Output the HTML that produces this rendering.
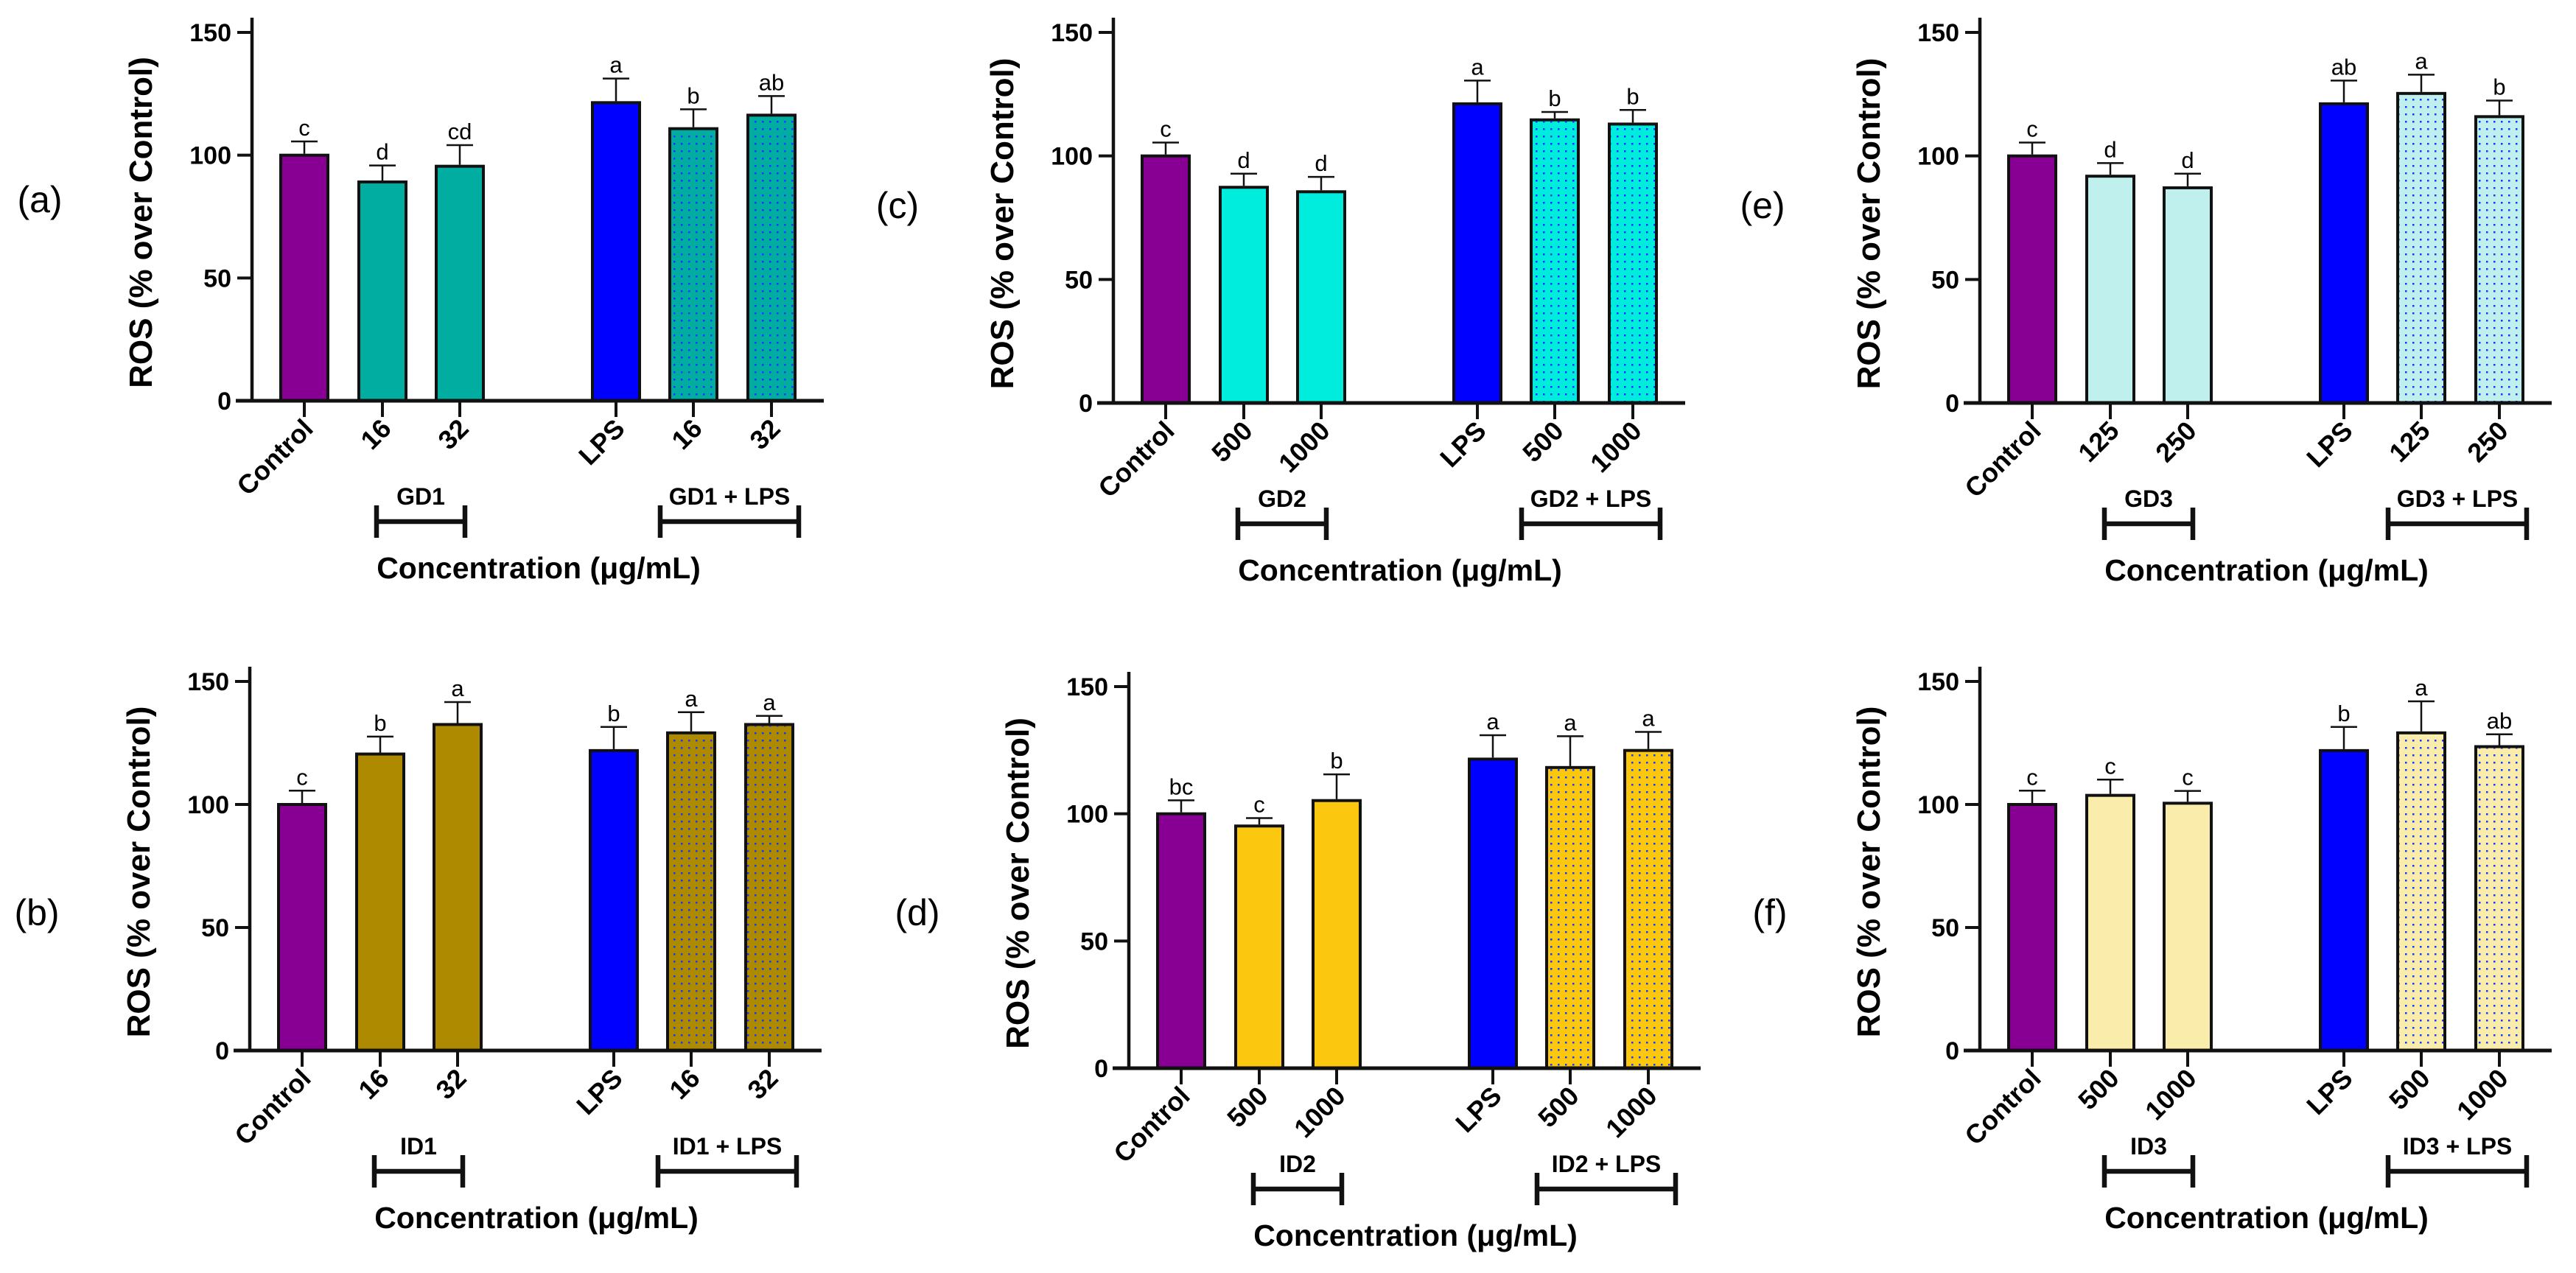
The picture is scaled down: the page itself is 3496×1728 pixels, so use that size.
<!DOCTYPE html>
<html><head><meta charset="utf-8"><style>
html,body{margin:0;padding:0;background:#fff;}
svg{display:block;}
text{font-family:"Liberation Sans",Arial,sans-serif;}
</style></head><body>
<svg id="fig" width="3496" height="1728" viewBox="0 0 3496 1728" xmlns="http://www.w3.org/2000/svg">
<defs>
<pattern id="dots" width="10" height="10" patternUnits="userSpaceOnUse"><rect x="4" y="4" width="2.5" height="2.5" fill="#1536ff"/></pattern>
</defs>
</svg>
<script>
// ---- data ----
const panelIds = ['a','b','c','d','e','f'];
const catA = ['Control','16','32','LPS','16','32'];
const catB = ['Control','16','32','LPS','16','32'];
const catC = ['Control','500','1000','LPS','500','1000'];
const catD = ['Control','500','1000','LPS','500','1000'];
const catE = ['Control','125','250','LPS','125','250'];
const catF = ['Control','500','1000','LPS','500','1000'];
const valA = [100, 89.1, 95.5, 121.4, 110.8, 116.3];
const errA = [5.6, 6.7, 8.6, 9.8, 7.9, 7.8];
const valB = [100, 120.5, 132.5, 121.9, 129.1, 132.5];
const errB = [5.6, 7.1, 9.1, 9.6, 8.4, 3.5];
const valC = [100, 87.3, 85.5, 121.1, 114.6, 112.9];
const errC = [5.4, 5.5, 6.0, 9.4, 3.2, 5.7];
const valD = [100, 95.2, 105.2, 121.5, 118.2, 124.9];
const errD = [5.3, 3.1, 10.3, 9.4, 12.3, 7.3];
const valE = [100, 91.8, 87.1, 121.1, 125.3, 115.9];
const errE = [5.4, 5.3, 5.7, 9.4, 7.6, 6.5];
const valF = [100, 103.7, 100.5, 121.9, 129.1, 123.5];
const errF = [5.6, 6.4, 5.0, 9.6, 12.8, 5.0];
const letA = ['c','d','cd','a','b','ab'];
const letB = ['c','b','a','b','a','a'];
const letC = ['c','d','d','a','b','b'];
const letD = ['bc','c','b','a','a','a'];
const letE = ['c','d','d','ab','a','b'];
const letF = ['c','c','c','b','a','ab'];
const groupA = ['GD1','GD1 + LPS'];
const groupB = ['ID1','ID1 + LPS'];
const groupC = ['GD2','GD2 + LPS'];
const groupD = ['ID2','ID2 + LPS'];
const groupE = ['GD3','GD3 + LPS'];
const groupF = ['ID3','ID3 + LPS'];
const yTicks = [0, 50, 100, 150];

const NS = 'http://www.w3.org/2000/svg';
const svg = document.getElementById('fig');
function mk(tag, attrs, parent){
  const e = document.createElementNS(NS, tag);
  for (const k in attrs) e.setAttribute(k, attrs[k]);
  (parent||svg).appendChild(e);
  return e;
}
const panels = [
  {id:'a', ax:342, y0:544, y150:44, lx:54, ly:272, cats:catA, vals:valA, errs:errA, lets:letA, grp:groupA, fill:'#00ada0'},
  {id:'b', ax:339, y0:1426, y150:925, lx:50, ly:1240, cats:catB, vals:valB, errs:errB, lets:letB, grp:groupB, fill:'#ae8a00'},
  {id:'c', ax:1511, y0:547, y150:44, lx:1218, ly:280, cats:catC, vals:valC, errs:errC, lets:letC, grp:groupC, fill:'#00ecdc'},
  {id:'d', ax:1532, y0:1450, y150:932, lx:1245, ly:1240, cats:catD, vals:valD, errs:errD, lets:letD, grp:groupD, fill:'#fcc70f'},
  {id:'e', ax:2687, y0:547, y150:44, lx:2392, ly:280, cats:catE, vals:valE, errs:errE, lets:letE, grp:groupE, fill:'#bff0ed'},
  {id:'f', ax:2687, y0:1426, y150:925, lx:2402, ly:1240, cats:catF, vals:valF, errs:errF, lets:letF, grp:groupF, fill:'#faecab'}
];
const offsets = [71, 177, 282, 494, 599, 705];
const BW = 64;

panels.forEach(p => {
  const g = mk('g', {});
  
  
  const yS = v => p.y0 - (p.y0 - p.y150) * v / 150;
  const cx = i => p.ax + offsets[i];

  const lab = mk('text', {x:p.lx, y:p.ly + 16, 'font-size':50, 'text-anchor':'middle'}, g);
  lab.textContent = '(' + p.id + ')';
  
  

  const yt = mk('text', {x:0, y:0, 'font-size':44, 'font-weight':'bold', 'text-anchor':'middle',
    transform:'translate(' + (p.ax - 136) + ',' + ((p.y0 + p.y150) / 2 + 8) + ') rotate(-90)'}, g);
  yt.textContent = 'ROS (% over Control)';
  
  

  // bars
  p.vals.forEach((v, i) => {
    const top = yS(v);
    const bar = mk('rect', {x:cx(i) - BW/2, y:top, width:BW, height:p.y0 - top,
      fill: i === 0 ? '#880093' : (i === 3 ? '#0000ff' : p.fill), stroke:'#111', 'stroke-width':4}, g);
    
    
    if (i > 3) {
      const pat = mk('rect', {x:cx(i) - BW/2 + 2, y:top + 2, width:BW - 4, height:p.y0 - top - 4, fill:'url(#dots)'}, g);
      
      
    }
    const et = yS(v + p.errs[i]);
    const el = mk('path', {d:'M' + cx(i) + ' ' + (top - 2) + 'V' + et + 'M' + (cx(i) - 18) + ' ' + et + 'H' + (cx(i) + 18), stroke:'#111', 'stroke-width':2.5, fill:'none'}, g);
    
    
    const lt = mk('text', {x:cx(i), y:et - 8, 'font-size':31, 'text-anchor':'middle'}, g);
    lt.textContent = p.lets[i];
    
    
    // x tick
    const tk = mk('line', {x1:cx(i), y1:p.y0, x2:cx(i), y2:p.y0 + 22, stroke:'#111', 'stroke-width':4}, g);
    
    
    const cl = mk('text', {x:0, y:0, 'font-size':36, 'font-weight':'bold', 'text-anchor':'end',
      transform:'translate(' + (cx(i) + 14) + ',' + (p.y0 + 40) + ') rotate(-45)'}, g);
    cl.textContent = p.cats[i];
    
    
  });

  // axes
  const yax = mk('line', {x1:p.ax, y1:p.y150 - 20, x2:p.ax, y2:p.y0 + 2, stroke:'#111', 'stroke-width':4.5}, g);
  
  
  const xax = mk('line', {x1:p.ax - 22, y1:p.y0, x2:p.ax + 776, y2:p.y0, stroke:'#111', 'stroke-width':5}, g);
  
  
  yTicks.forEach(t => {
    const y = yS(t);
    const tl = mk('line', {x1:p.ax - 20, y1:y, x2:p.ax, y2:y, stroke:'#111', 'stroke-width':4}, g);
    
    
    const tx = mk('text', {x:p.ax - 28, y:y + 12, 'font-size':34, 'font-weight':'bold', 'text-anchor':'end'}, g);
    tx.textContent = t;
    
    
  });

  // group brackets
  const br = [[cx(1) - 8, cx(2) + 7], [cx(4) - 45, cx(5) + 37]];
  br.forEach((b, k) => {
    const by = p.y0 + 164;
    const bp = mk('path', {d:'M' + b[0] + ' ' + by + 'H' + b[1] + 'M' + b[0] + ' ' + (by - 22) + 'V' + (by + 22) + 'M' + b[1] + ' ' + (by - 22) + 'V' + (by + 22), stroke:'#111', 'stroke-width':6.5, fill:'none'}, g);
    
    
    const bt = mk('text', {x:(b[0] + b[1]) / 2, y:p.y0 + 141, 'font-size':32, 'font-weight':'bold', 'text-anchor':'middle'}, g);
    bt.textContent = p.grp[k];
    
    
  });

  const xt = mk('text', {x:p.ax + 389, y:p.y0 + 241, 'font-size':41, 'font-weight':'bold', 'text-anchor':'middle'}, g);
  xt.textContent = 'Concentration (\u03bcg/mL)';
  
  
});
</script>
</body></html>
